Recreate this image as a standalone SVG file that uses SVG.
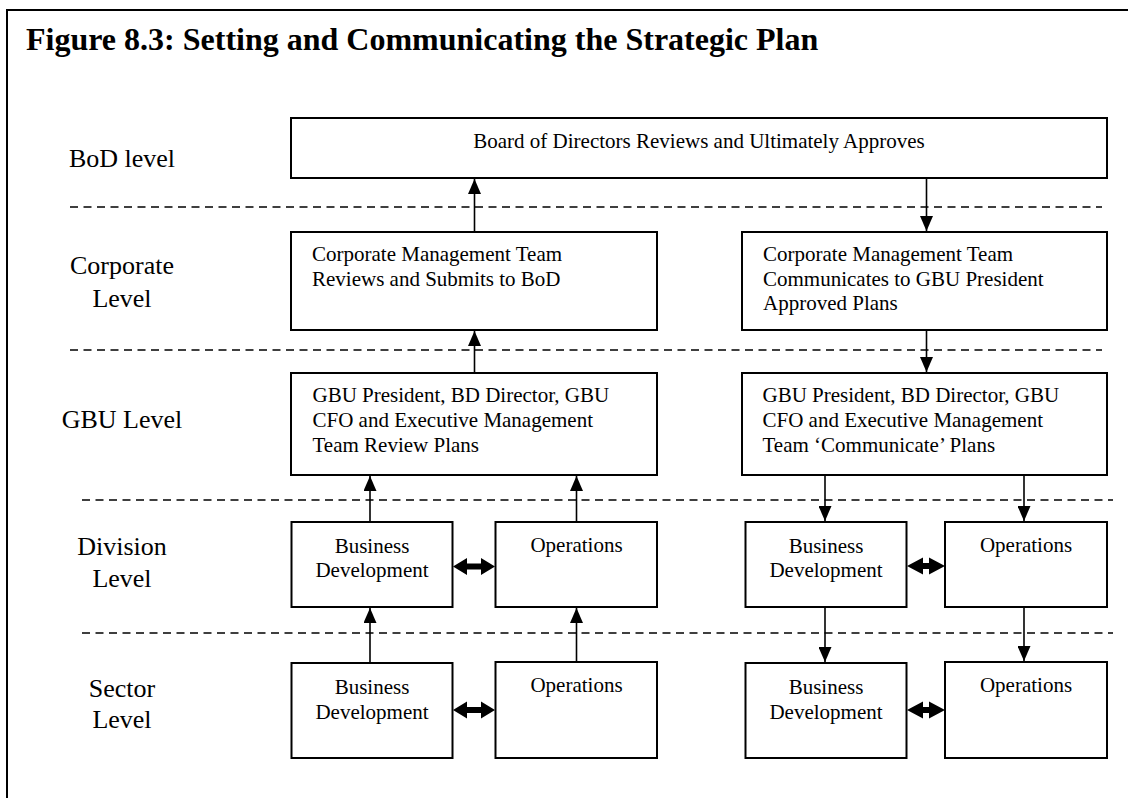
<svg xmlns="http://www.w3.org/2000/svg" width="1128" height="798" viewBox="0 0 1128 798">
<style>
  .t{font-family:"Liberation Serif","Times New Roman",serif;fill:#000}
  .title{font-size:32px;font-weight:bold}
  .lbl{font-size:26px;text-anchor:middle}
  .bx{font-size:21px}
  .c{text-anchor:middle}
  .box{fill:#fff;stroke:#000;stroke-width:2}
  .dash{stroke:#000;stroke-width:1.5;stroke-dasharray:8 5.5;fill:none}
  .ar{stroke:#000;stroke-width:1.6;fill:none;marker-end:url(#ah)}
  .dbl{fill:#000;stroke:none}
</style>
<defs>
  <marker id="ah" markerUnits="userSpaceOnUse" markerWidth="15" markerHeight="13" refX="15" refY="6.5" orient="auto">
    <path d="M0,0 L15,6.5 L0,13 z" fill="#000"/>
  </marker>
</defs>
<rect x="0" y="0" width="1128" height="798" fill="#fff"/>
<rect x="7" y="10" width="1200" height="900" fill="none" stroke="#000" stroke-width="2"/>
<text class="t title" x="26" y="50">Figure 8.3: Setting and Communicating the Strategic Plan</text>

<g id="levels">
  <text class="t lbl" x="122" y="167">BoD level</text>
  <text class="t lbl" x="122" y="274">Corporate</text>
  <text class="t lbl" x="122" y="307">Level</text>
  <text class="t lbl" x="122" y="428">GBU Level</text>
  <text class="t lbl" x="122" y="555">Division</text>
  <text class="t lbl" x="122" y="587">Level</text>
  <text class="t lbl" x="122" y="697">Sector</text>
  <text class="t lbl" x="122" y="728">Level</text>
</g>

<g id="separators">
  <line class="dash" x1="70" y1="207" x2="1102" y2="207"/>
  <line class="dash" x1="70" y1="350" x2="1102" y2="350"/>
  <line class="dash" x1="82" y1="500" x2="1113" y2="500"/>
  <line class="dash" x1="82" y1="633" x2="1113" y2="633"/>
</g>

<g id="bod">
  <rect class="box" x="291" y="118" width="816" height="60"/>
  <text class="t bx c" x="699" y="148">Board of Directors Reviews and Ultimately Approves</text>
</g>
<g id="corp-left">
  <rect class="box" x="291" y="232" width="366" height="98"/>
  <text class="t bx" x="312" y="261">Corporate Management Team</text>
  <text class="t bx" x="312" y="286">Reviews and Submits to BoD</text>
</g>
<g id="corp-right">
  <rect class="box" x="742" y="232" width="365" height="98"/>
  <text class="t bx" x="763" y="261">Corporate Management Team</text>
  <text class="t bx" x="763" y="285.5">Communicates to GBU President</text>
  <text class="t bx" x="763" y="310">Approved Plans</text>
</g>
<g id="gbu-left">
  <rect class="box" x="291" y="373" width="366" height="102"/>
  <text class="t bx" x="312.5" y="401.5">GBU President, BD Director, GBU</text>
  <text class="t bx" x="312.5" y="426.5">CFO and Executive Management</text>
  <text class="t bx" x="312.5" y="451.5">Team Review Plans</text>
</g>
<g id="gbu-right">
  <rect class="box" x="742" y="373" width="365" height="102"/>
  <text class="t bx" x="762.5" y="401.5">GBU President, BD Director, GBU</text>
  <text class="t bx" x="762.5" y="426.5">CFO and Executive Management</text>
  <text class="t bx" x="762.5" y="451.5">Team ‘Communicate’ Plans</text>
</g>

<g id="div-bd-left">
  <rect class="box" x="291.5" y="522" width="161" height="85"/>
  <text class="t bx c" x="372" y="552.5">Business</text>
  <text class="t bx c" x="372" y="577">Development</text>
</g>
<g id="div-ops-left">
  <rect class="box" x="495.5" y="522" width="161.5" height="85"/>
  <text class="t bx c" x="576.5" y="551.5">Operations</text>
</g>
<g id="div-bd-right">
  <rect class="box" x="745.5" y="522" width="161" height="85"/>
  <text class="t bx c" x="826" y="552.5">Business</text>
  <text class="t bx c" x="826" y="577">Development</text>
</g>
<g id="div-ops-right">
  <rect class="box" x="945" y="522" width="162" height="85"/>
  <text class="t bx c" x="1026" y="551.5">Operations</text>
</g>

<g id="sec-bd-left">
  <rect class="box" x="291.5" y="663" width="161" height="95"/>
  <text class="t bx c" x="372" y="694">Business</text>
  <text class="t bx c" x="372" y="718.5">Development</text>
</g>
<g id="sec-ops-left">
  <rect class="box" x="495.5" y="662" width="161.5" height="96"/>
  <text class="t bx c" x="576.5" y="691.5">Operations</text>
</g>
<g id="sec-bd-right">
  <rect class="box" x="745.5" y="663" width="161" height="95"/>
  <text class="t bx c" x="826" y="694">Business</text>
  <text class="t bx c" x="826" y="718.5">Development</text>
</g>
<g id="sec-ops-right">
  <rect class="box" x="945" y="662" width="162" height="96"/>
  <text class="t bx c" x="1026" y="691.5">Operations</text>
</g>

<g id="connectors">
  <line class="ar" x1="474.5" y1="232" x2="474.5" y2="179"/>
  <line class="ar" x1="474.5" y1="373" x2="474.5" y2="331"/>
  <line class="ar" x1="926.5" y1="178" x2="926.5" y2="231"/>
  <line class="ar" x1="926.5" y1="330" x2="926.5" y2="372"/>
  <line class="ar" x1="370" y1="522" x2="370" y2="476"/>
  <line class="ar" x1="576.5" y1="522" x2="576.5" y2="476"/>
  <line class="ar" x1="370" y1="663" x2="370" y2="608"/>
  <line class="ar" x1="576.5" y1="662" x2="576.5" y2="608"/>
  <line class="ar" x1="825" y1="475" x2="825" y2="521"/>
  <line class="ar" x1="1024" y1="475" x2="1024" y2="521"/>
  <line class="ar" x1="825" y1="607" x2="825" y2="662"/>
  <line class="ar" x1="1024" y1="607" x2="1024" y2="661"/>
  <polygon class="dbl" points="453,566.5 467,558 467,563.5 481,563.5 481,558 495,566.5 481,575 481,569.5 467,569.5 467,575"/>
  <polygon class="dbl" points="453,710 467,701.5 467,707 481,707 481,701.5 495,710 481,718.5 481,713 467,713 467,718.5"/>
  <polygon class="dbl" points="907,566 923,557.5 923,563 929,563 929,557.5 945,566 929,574.5 929,569 923,569 923,574.5"/>
  <polygon class="dbl" points="907,710 923,701.5 923,707 929,707 929,701.5 945,710 929,718.5 929,713 923,713 923,718.5"/>
</g>
</svg>
